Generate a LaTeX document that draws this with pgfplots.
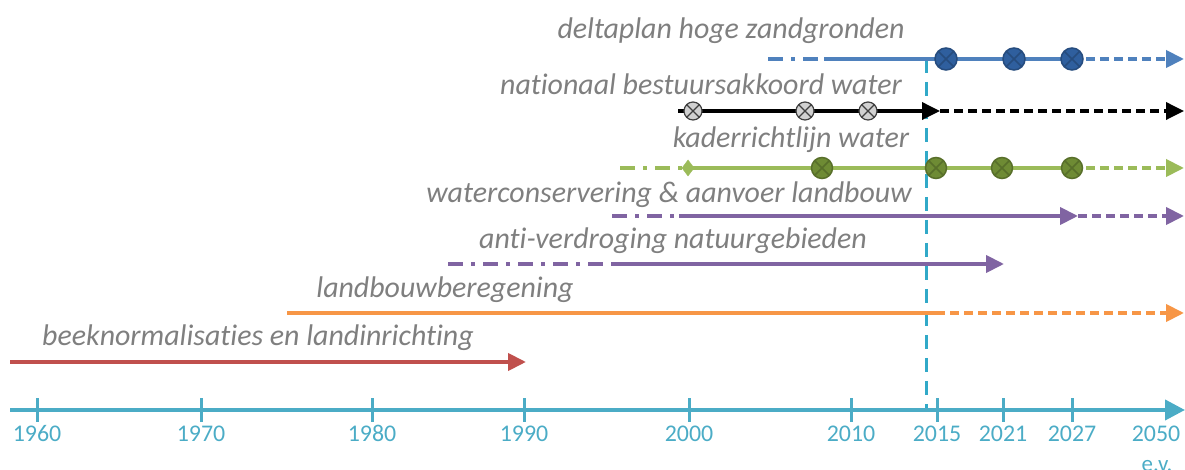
\documentclass[border=0pt]{standalone}
\usepackage{pgfplots}
\pgfplotsset{compat=1.18}
\usepackage{fontspec}
\setmainfont{Carlito}[Ligatures={NoCommon}]
\usetikzlibrary{arrows.meta}
\definecolor{axisteal}{HTML}{4BACC6}
\definecolor{vline}{HTML}{31A9C8}
\definecolor{tgray}{HTML}{7F7F7F}
\definecolor{cblue}{HTML}{4F81BD}
\definecolor{cbluedark}{HTML}{2F5F9E}
\definecolor{cgreen}{HTML}{9BBB59}
\definecolor{cgreendark}{HTML}{6E8B34}
\definecolor{cpurple}{HTML}{8064A2}
\definecolor{corange}{HTML}{F79646}
\definecolor{cred}{HTML}{C0504D}
\tikzset{
  tip/.style={-{Triangle[length=18bp,width=17bp]}},
  dd/.style={dash pattern=on 15bp off 8bp on 4bp off 8bp},
  ds/.style={dash pattern=on 9bp off 5bp},
  lbl/.style={font=\fontsize{30}{34}\selectfont\itshape, text=tgray, inner sep=0pt},
}
\begin{document}
\begin{tikzpicture}
\begin{axis}[
  scale only axis, width=1175bp, height=410bp,
  xmin=10, xmax=1185, ymin=60, ymax=470,
  axis x line=bottom, axis y line=none,
  x axis line style={draw=axisteal, line width=4bp, -{Triangle[length=20bp,width=20bp]}},
  xtick={37,201,372,524,689,851,937,1003,1072},
  xticklabels={1960,1970,1980,1990,2000,2010,2015,2021,2027},
  extra x ticks={1156}, extra x tick labels={2050},
  extra x tick style={tick style={draw=none}},
  major tick length=24bp, tick align=center,
  tick style={draw=axisteal, line width=3bp},
  xticklabel style={font=\fontsize{24}{27}\selectfont, text=axisteal},
  clip=false,
]
% vertical dashed line (2015 marker)
\addplot[vline, line width=3bp, dash pattern=on 14bp off 9bp] coordinates {(926,411) (926,62)};

% deltaplan hoge zandgronden
\addplot[cblue, line width=4bp, dd] coordinates {(768,411) (824,411)};
\addplot[cblue, line width=4bp] coordinates {(824,411) (1072,411)};
\addplot[cblue, line width=4bp, ds, tip] coordinates {(1072,411) (1184,411)};
\addplot[only marks, mark=otimes*, mark size=11bp, mark options={fill=cbluedark, draw=cbluedark!80!black, line width=1.5bp}] coordinates {(946,411) (1014,411) (1072,411)};

% nationaal bestuursakkoord water
\addplot[black, line width=3.5bp, tip] coordinates {(678,359) (940,359)};
\addplot[black, line width=3.5bp, ds, tip] coordinates {(940,359) (1184,359)};
\addplot[only marks, mark=otimes*, mark size=9bp, mark options={fill=black!18, draw=black!75, line width=1.2bp}] coordinates {(693,359) (805,359) (868,359)};

% kaderrichtlijn water
\addplot[cgreen, line width=4bp, dd] coordinates {(620,302) (688,302)};
\addplot[cgreen, line width=4bp] coordinates {(688,302) (1072,302)};
\addplot[cgreen, line width=4bp, ds, tip] coordinates {(1072,302) (1184,302)};
\addplot[only marks, mark=diamond*, mark size=8bp, mark options={fill=cgreen, draw=cgreen}] coordinates {(688,302)};
\addplot[only marks, mark=otimes*, mark size=10.5bp, mark options={fill=cgreendark, draw=cgreendark!80!black, line width=1.5bp}] coordinates {(822,302) (936,302) (1002,302) (1072,302)};

% waterconservering & aanvoer landbouw
\addplot[cpurple, line width=4bp, dd] coordinates {(612,254) (679,254)};
\addplot[cpurple, line width=4bp, tip] coordinates {(679,254) (1078,254)};
\addplot[cpurple, line width=4bp, ds, tip] coordinates {(1078,254) (1184,254)};

% anti-verdroging natuurgebieden
\addplot[cpurple, line width=4bp, dd] coordinates {(448,206) (612,206)};
\addplot[cpurple, line width=4bp, tip] coordinates {(612,206) (1004,206)};

% landbouwberegening
\addplot[corange, line width=4bp] coordinates {(287,157) (936,157)};
\addplot[corange, line width=4bp, ds, tip] coordinates {(936,157) (1184,157)};

% beeknormalisaties en landinrichting
\addplot[cred, line width=4bp, tip] coordinates {(10,108) (526,108)};

% labels
\node[lbl] at (axis cs:731,439) {deltaplan hoge zandgronden};
\node[lbl] at (axis cs:701,386) {nationaal bestuursakkoord water};
\node[lbl] at (axis cs:791,330) {kaderrichtlijn water};
\node[lbl] at (axis cs:669,275) {waterconservering \& aanvoer landbouw};
\node[lbl] at (axis cs:673,229) {anti-verdroging natuurgebieden};
\node[lbl] at (axis cs:445,180) {landbouwberegening};
\node[lbl] at (axis cs:258,132) {beeknormalisaties en landinrichting};
\node[font=\fontsize{23}{26}\selectfont, text=axisteal] at (axis cs:1157,4) {e.v.};

\coordinate (bl) at (axis cs:0,0);
\coordinate (tr) at (axis cs:1185,470);
\end{axis}
\pgfresetboundingbox
\useasboundingbox (bl) rectangle (tr);
\end{tikzpicture}
\end{document}
